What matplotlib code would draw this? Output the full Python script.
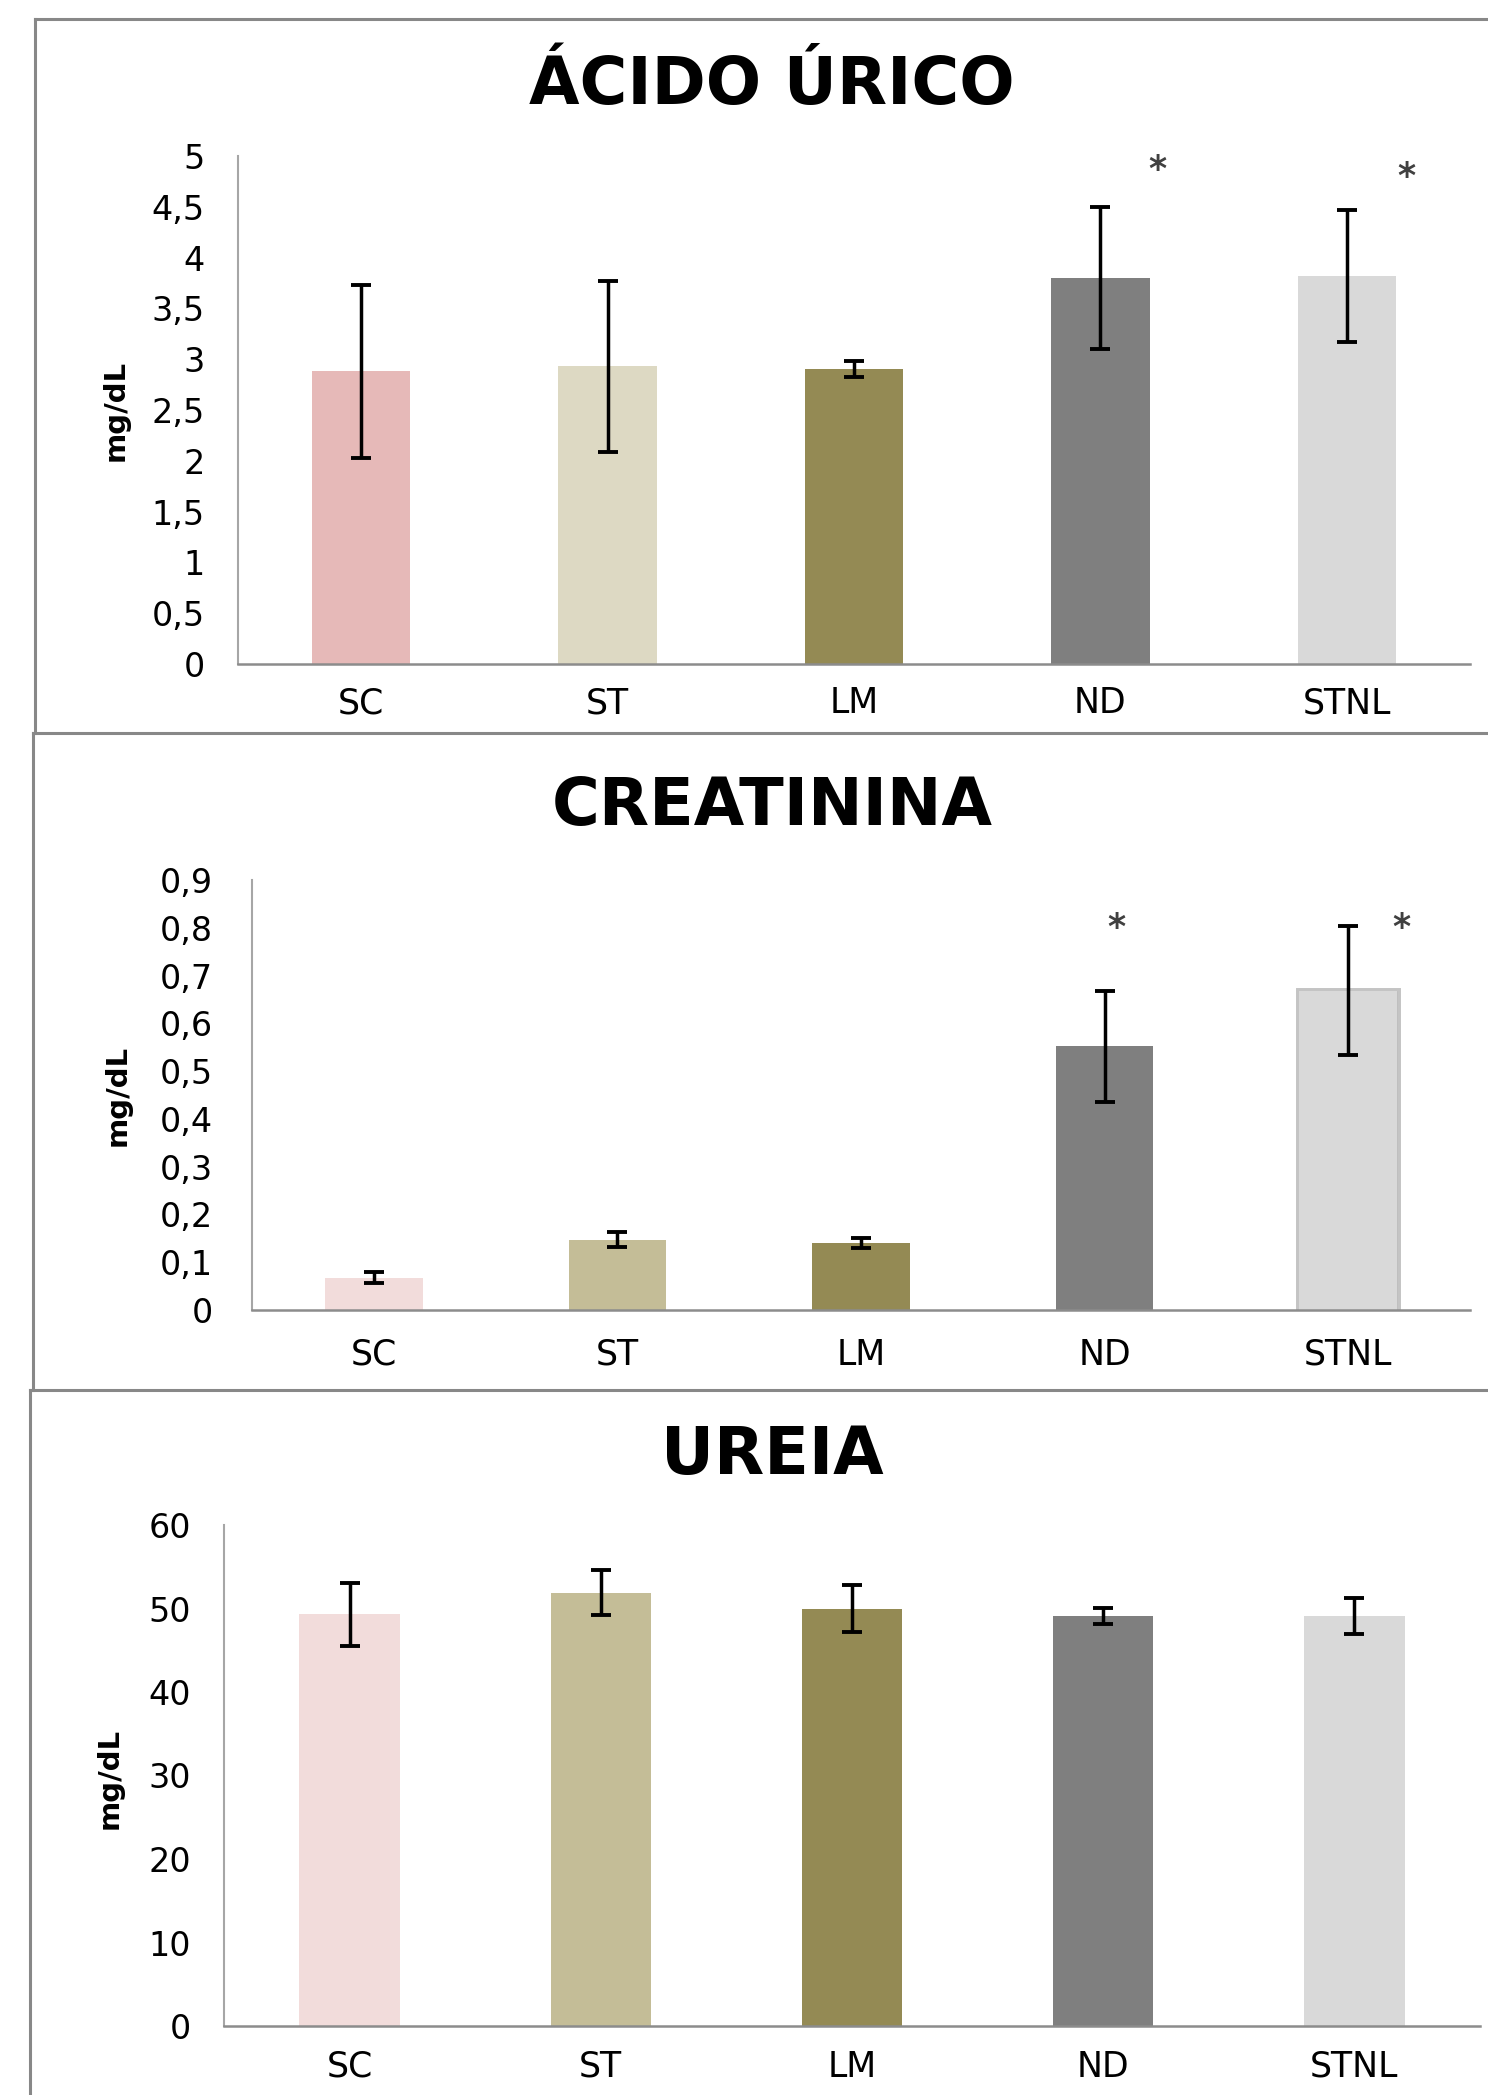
import matplotlib
matplotlib.use("Agg")
import matplotlib.pyplot as plt
import matplotlib.patheffects as pe
from matplotlib.lines import Line2D

groups = ["SC", "ST", "LM", "ND", "STNL"]

# Ácido úrico (mg/dL)
acido_mean = [2.88, 2.93, 2.90, 3.80, 3.82]
acido_err = [0.85, 0.84, 0.08, 0.70, 0.65]

# Creatinina (mg/dL)
creat_mean = [0.068, 0.147, 0.140, 0.552, 0.668]
creat_err = [0.012, 0.016, 0.010, 0.116, 0.135]

# Ureia (mg/dL)
ureia_mean = [49.3, 51.9, 50.0, 49.1, 49.1]
ureia_err = [3.8, 2.7, 2.8, 1.0, 2.1]

colors_top = ["#E6B9B8", "#DDD9C3", "#948A54", "#7F7F7F", "#D9D9D9"]
colors_low = ["#F2DCDB", "#C4BD97", "#948A54", "#7F7F7F", "#D9D9D9"]

acido_ticks = [0, 0.5, 1, 1.5, 2, 2.5, 3, 3.5, 4, 4.5, 5]
creat_ticks = [0, 0.1, 0.2, 0.3, 0.4, 0.5, 0.6, 0.7, 0.8, 0.9]
ureia_ticks = [0, 10, 20, 30, 40, 50, 60]

W, H = 1488, 2095
fig = plt.figure(figsize=(W / 100, H / 100), dpi=100)
fig.patch.set_facecolor("white")


def fx(px):
    return px / W


def fy(py):
    return 1 - py / H


def ticklabel(v):
    # decimal comma, as in the original
    return ("%g" % v).replace(".", ",")


def panel(rect, means, errs, colors, ticks, ylim, title, title_y, ylab_xy,
          ypad, xpad, shadow_last=False):
    ax = fig.add_axes(rect)
    x = range(len(groups))
    bars = ax.bar(x, means, width=0.4, color=colors, zorder=2)
    if shadow_last:
        bars[-1].set_path_effects([
            pe.Stroke(linewidth=5, foreground="#8a8a8a", alpha=0.5),
            pe.Normal()])
    ax.errorbar(x, means, yerr=errs, fmt="none", ecolor="black",
                elinewidth=2.5, capsize=7, capthick=2.8, zorder=3)
    ax.set_xlim(-0.5, len(groups) - 0.5)
    ax.set_ylim(*ylim)
    ax.set_yticks(ticks)
    ax.set_yticklabels([ticklabel(t) for t in ticks])
    ax.set_xticks(list(x))
    ax.set_xticklabels(groups)
    ax.tick_params(axis="y", length=0, pad=ypad, labelsize=24)
    ax.tick_params(axis="x", length=0, pad=xpad, labelsize=25)
    for lab in ax.get_xticklabels() + ax.get_yticklabels():
        lab.set_family("DejaVu Sans")
    for s in ["top", "right"]:
        ax.spines[s].set_visible(False)
    ax.spines["left"].set_color("#A6A6A6")
    ax.spines["left"].set_linewidth(1.5)
    ax.spines["bottom"].set_color("#8C8C8C")
    ax.spines["bottom"].set_linewidth(1.8)
    ax.set_facecolor("none")
    fig.text(0.519, title_y, title, ha="center", va="baseline",
             fontsize=47, fontweight="bold", family="DejaVu Sans")
    fig.text(ylab_xy[0], ylab_xy[1], "mg/dL", rotation=90, ha="center",
             va="center", fontsize=21, fontweight="bold", family="DejaVu Sans")
    return ax


star = dict(ha="center", va="center", fontsize=25, color="#404040",
            fontweight="bold")

ax1 = panel([fx(238), fy(664), fx(1470) - fx(238), fy(156) - fy(664)],
            acido_mean, acido_err, colors_top, acido_ticks, (0, 5),
            "ÁCIDO ÚRICO", fy(104), (fx(116), fy(410)), 24, 16)
ax1.text(3.23, 4.86, "*", **star)
ax1.text(4.24, 4.79, "*", **star)

ax2 = panel([fx(252), fy(1310), fx(1470) - fx(252), fy(880) - fy(1310)],
            creat_mean, creat_err, colors_low, creat_ticks, (0, 0.9),
            "CREATININA", fy(825), (fx(118), fy(1095)), 28, 20,
            shadow_last=True)
ax2.text(3.05, 0.80, "*", **star)
ax2.text(4.22, 0.80, "*", **star)

ax3 = panel([fx(224), fy(2026), fx(1480) - fx(224), fy(1525) - fy(2026)],
            ureia_mean, ureia_err, colors_low, ureia_ticks, (0, 60),
            "UREIA", fy(1474), (fx(110), fy(1778)), 24, 17)

# panel frames
border = dict(color="#888888", linewidth=2.2, transform=fig.transFigure)
fig.add_artist(Line2D([fx(35), fx(35)], [fy(19), fy(733)], **border))
fig.add_artist(Line2D([fx(35), 1], [fy(19), fy(19)], **border))
fig.add_artist(Line2D([fx(33), 1], [fy(733), fy(733)], **border))
fig.add_artist(Line2D([fx(33), fx(33)], [fy(733), fy(1390)], **border))
fig.add_artist(Line2D([fx(30), 1], [fy(1390), fy(1390)], **border))
fig.add_artist(Line2D([fx(30), fx(30)], [fy(1390), 0], **border))

fig.savefig("out.png", dpi=100, facecolor="white")
